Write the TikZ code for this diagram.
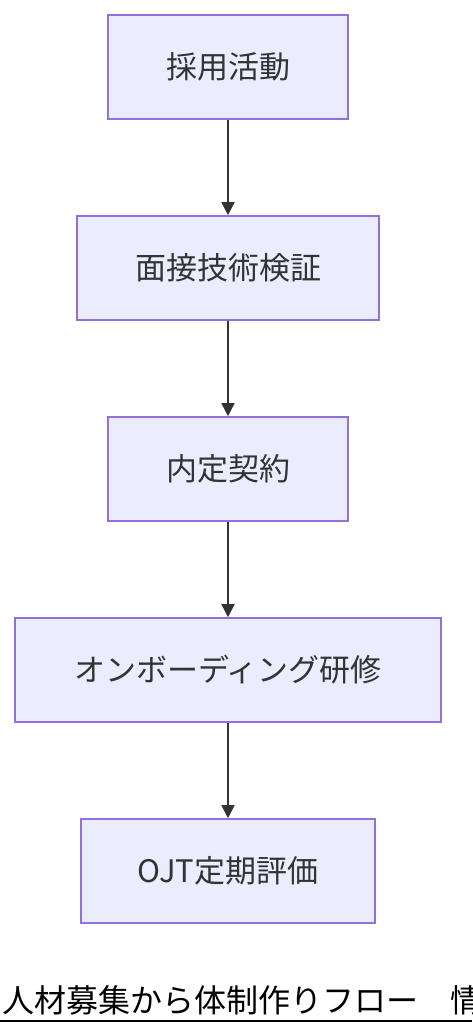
\documentclass[tikz,border=0pt]{standalone}
\usepackage{fontspec}
\setmainfont{Noto Sans CJK JP}
\usepackage{xcolor}
\usetikzlibrary{arrows.meta,calc}
\definecolor{boxfill}{HTML}{ECECFF}
\definecolor{boxline}{HTML}{9370DB}
\definecolor{ink}{HTML}{333333}
\tikzset{
    stepbox/.style={draw=boxline, fill=boxfill, line width=1.6pt, rectangle, inner sep=0pt,
      minimum height=104pt, text=ink, font=\fontsize{31}{36}\selectfont},
    flow/.style={draw=ink, line width=1.6pt, -{Triangle[length=13pt,width=13pt]}}}

\begin{document}
\begin{tikzpicture}[x=1pt,y=-1pt]
\useasboundingbox (0,0) rectangle (472,1036);
\fill[white] (0,0) rectangle (472,1036);
\coordinate (c1) at (228,67);
\coordinate (c2) at (228,268);
\coordinate (c3) at (228,469);
\coordinate (c4) at (228,670);
\coordinate (c5) at (228,871);
\node[stepbox, minimum width=240pt] (hire) at (c1) {採用活動};
\node[stepbox, minimum width=302pt] (interview) at (c2) {面接技術検証};
\node[stepbox, minimum width=240pt] (offer) at (c3) {内定契約};
\node[stepbox, minimum width=426pt] (onboard) at (c4) {オンボーディング研修};
\node[stepbox, minimum width=294pt] (ojt) at (c5) {OJT定期評価};
\draw[flow] (hire) -- (interview);
\draw[flow] (interview) -- (offer);
\draw[flow] (offer) -- (onboard);
\draw[flow] (onboard) -- (ojt);
% caption, cut off at the right edge
\node[anchor=base west, inner sep=0pt, font=\fontsize{32}{38}\selectfont] (title) at (2,1012) {人材募集から体制作りフロー　情};
\draw[line width=2pt] (0,1021) -- (472,1021);
\end{tikzpicture}
\end{document}
